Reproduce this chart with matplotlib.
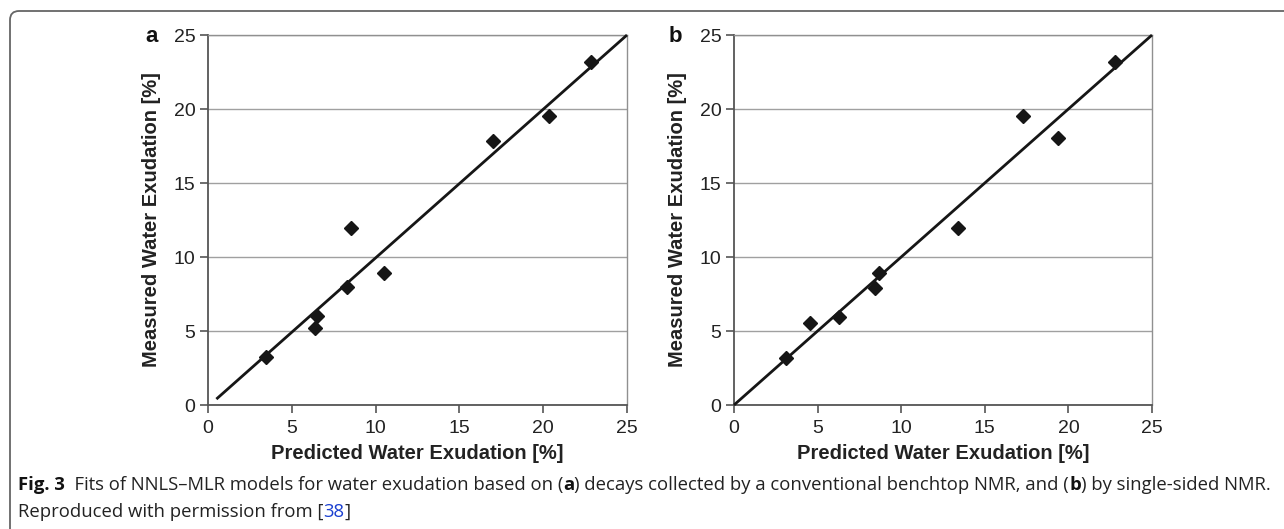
import matplotlib
matplotlib.use("Agg")
import matplotlib.pyplot as plt
from matplotlib import font_manager
from matplotlib.patches import FancyBboxPatch
from matplotlib.transforms import IdentityTransform

plt.rcParams['font.family'] = ['Liberation Sans', 'DejaVu Sans']

# panel a: conventional benchtop NMR
pred_a = [3.45, 6.4, 6.5, 8.3, 8.55, 10.5, 17.0, 20.35, 22.85]
meas_a = [3.27, 5.23, 6.0, 7.95, 11.95, 8.9, 17.85, 19.55, 23.15]
fit_a_x = [0.5, 25]
fit_a_y = [0.4, 25]

# panel b: single-sided NMR
pred_b = [3.1, 4.55, 6.3, 8.45, 8.65, 13.4, 17.3, 19.35, 22.8]
meas_b = [3.15, 5.55, 5.95, 7.9, 8.95, 11.95, 19.55, 18.05, 23.15]
fit_b_x = [0, 25]
fit_b_y = [0, 25]

ticks = [0, 5, 10, 15, 20, 25]
W, H = 1284, 529

fig = plt.figure(figsize=(W / 100, H / 100), dpi=100)

# outer frame: top rule and left rule with a rounded corner
frame = FancyBboxPatch((10, -40), W + 40, H - 11 + 40,
                       boxstyle="round,pad=0,rounding_size=9",
                       transform=IdentityTransform(), fill=False,
                       edgecolor='#666666', linewidth=1.3)
fig.add_artist(frame)


def draw_panel(rect, px, py, fx, fy, letter, letter_x):
    ax = fig.add_axes(rect)
    ax.set_xlim(0, 25)
    ax.set_ylim(0, 25)
    ax.set_xticks(ticks)
    ax.set_yticks(ticks)
    ax.grid(axis='y', color='#a0a0a0', linewidth=1.0)
    ax.set_axisbelow(True)
    for side in ('top', 'right'):
        ax.spines[side].set_color('#909090')
        ax.spines[side].set_linewidth(1.0)
    for side in ('left', 'bottom'):
        ax.spines[side].set_color('#555555')
        ax.spines[side].set_linewidth(1.3)
    ax.tick_params(direction='out', length=6, width=1.2, color='#555555',
                   labelcolor='#222222', labelsize=14)
    ax.tick_params(axis='x', pad=5)
    ax.tick_params(axis='y', pad=3)
    ax.plot(fx, fy, color='#161616', linewidth=2.0, solid_capstyle='butt',
            clip_on=False, zorder=3)
    ax.plot(px, py, linestyle='none', marker='D', markersize=7.5,
            color='#161616', zorder=4, clip_on=False)
    ax.set_xlabel('Predicted Water Exudation [%]', fontsize=14.5,
                  fontweight='bold', color='#222222', labelpad=5)
    ax.set_ylabel('Measured Water Exudation [%]', fontsize=14.5,
                  fontweight='bold', color='#222222', labelpad=9)
    fig.text(letter_x / W, 1 - 36 / H, letter, fontsize=16, fontweight='bold',
             ha='center', va='center', color='#111111')
    return ax


ax_a = draw_panel([208 / W, 1 - 405 / H, 419 / W, 370 / H],
                  pred_a, meas_a, fit_a_x, fit_a_y, 'a', 152)
ax_b = draw_panel([734 / W, 1 - 405 / H, 418 / W, 370 / H],
                  pred_b, meas_b, fit_b_x, fit_b_y, 'b', 675)

# caption, laid out piece by piece
try:
    font_manager.findfont('Liberation Sans Narrow', fallback_to_default=False)
    cap_font = ['Liberation Sans Narrow', 'DejaVu Sans']
except ValueError:
    cap_font = ['Open Sans', 'DejaVu Sans']

renderer = fig.canvas.get_renderer()

line1 = [("Fig. 3", 'bold', '#111111'),
         ("  Fits of NNLS\u2013MLR models for water exudation based on (", 'normal', '#222222'),
         ("a", 'bold', '#111111'),
         (") decays collected by a conventional benchtop NMR, and (", 'normal', '#222222'),
         ("b", 'bold', '#111111'),
         (") by single-sided NMR.", 'normal', '#222222')]
line2 = [("Reproduced with permission from [", 'normal', '#222222'),
         ("38", 'normal', '#1a3fd0'),
         ("]", 'normal', '#222222')]


def write_line(pieces, x0, y_px, size):
    x = x0
    texts = []
    for txt, weight, color in pieces:
        t = fig.text(x / W, 1 - y_px / H, txt, fontsize=size,
                     family=cap_font, fontweight=weight, color=color,
                     ha='left', va='center')
        x = t.get_window_extent(renderer).x1
        texts.append(t)
    return x, texts


# size the caption so the first line runs to the right edge of the frame
end, probe = write_line(line1, 18, 485, 10)
for t in probe:
    t.remove()
cap_size = 10 * (1268 - 18) / (end - 18)

write_line(line1, 18, 485, cap_size)
write_line(line2, 18, 512, cap_size)

fig.savefig('out.png', dpi=100)
